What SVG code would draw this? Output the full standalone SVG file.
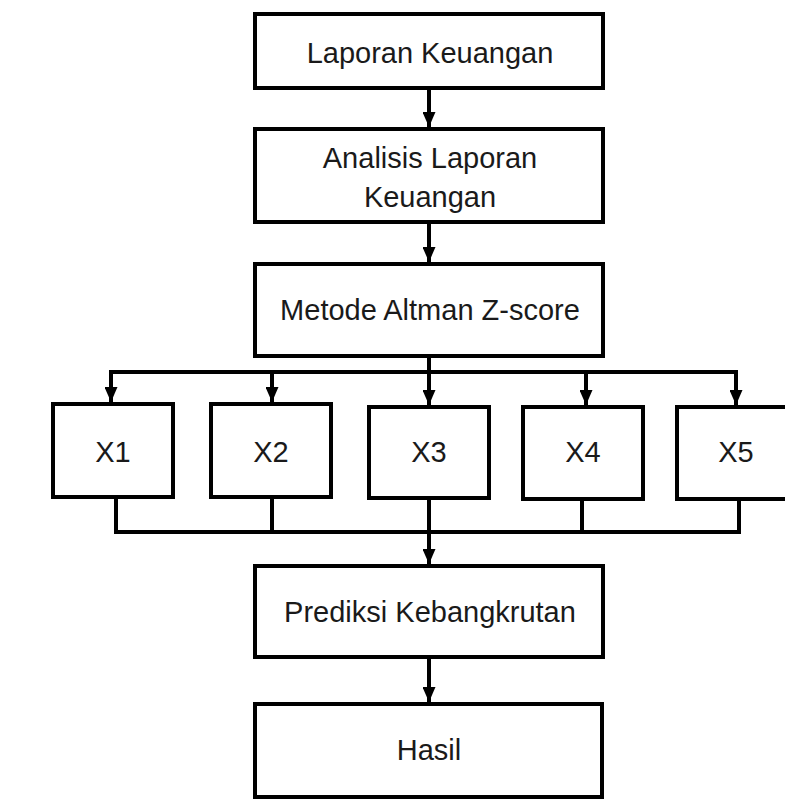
<svg xmlns="http://www.w3.org/2000/svg" width="785" height="803" viewBox="0 0 785 803">
<defs>
<style>
.box{fill:#fff;stroke:#000;stroke-width:4}
.t{font-family:"Liberation Sans",Arial,sans-serif;font-size:29px;fill:#1a1a1a;text-anchor:middle}
.c{fill:none;stroke:#000;stroke-width:4}
</style>
<marker id="a" markerWidth="15" markerHeight="13" refX="15" refY="6.5" viewBox="0 0 15 13" orient="auto" markerUnits="userSpaceOnUse">
<path d="M0,0 L15,6.5 L0,13 Z" fill="#000"/>
</marker>
</defs>
<rect width="785" height="803" fill="#fff"/>
<g id="n1"><rect class="box" x="255" y="14" width="348" height="74"/><text class="t" x="430" y="63">Laporan Keuangan</text></g>
<g id="n2"><rect class="box" x="255" y="129" width="348" height="93"/><text class="t" x="430" y="168">Analisis Laporan</text><text class="t" x="430" y="207">Keuangan</text></g>
<g id="n3"><rect class="box" x="255" y="264" width="348" height="92"/><text class="t" x="430" y="320">Metode Altman Z-score</text></g>
<g id="x1"><rect class="box" x="53" y="404" width="120" height="93"/><text class="t" x="113" y="462">X1</text></g>
<g id="x2"><rect class="box" x="211" y="404" width="120" height="93"/><text class="t" x="271" y="462">X2</text></g>
<g id="x3"><rect class="box" x="369" y="407" width="120" height="91"/><text class="t" x="429" y="462">X3</text></g>
<g id="x4"><rect class="box" x="523" y="407" width="120" height="92"/><text class="t" x="583" y="462">X4</text></g>
<g id="x5"><rect class="box" x="677" y="407" width="120" height="92"/><text class="t" x="736" y="462">X5</text></g>
<g id="n4"><rect class="box" x="255" y="566" width="348" height="91"/><text class="t" x="430" y="622">Prediksi Kebangkrutan</text></g>
<g id="n5"><rect class="box" x="255" y="704" width="347" height="93"/><text class="t" x="429" y="760">Hasil</text></g>
<g id="connectors">
<line class="c" x1="429" y1="88" x2="429" y2="127" marker-end="url(#a)"/>
<line class="c" x1="429" y1="222" x2="429" y2="262" marker-end="url(#a)"/>
<line class="c" x1="429" y1="356" x2="429" y2="405" marker-end="url(#a)"/>
<polyline class="c" points="111,392 111,372 736,372 736,392"/>
<line class="c" x1="111" y1="390" x2="111" y2="402" marker-end="url(#a)"/>
<line class="c" x1="736" y1="390" x2="736" y2="405" marker-end="url(#a)"/>
<line class="c" x1="272" y1="372" x2="272" y2="402" marker-end="url(#a)"/>
<line class="c" x1="586" y1="372" x2="586" y2="405" marker-end="url(#a)"/>
<polyline class="c" points="116,497 116,532 739,532 739,499"/>
<line class="c" x1="272" y1="497" x2="272" y2="532"/>
<line class="c" x1="582" y1="499" x2="582" y2="532"/>
<line class="c" x1="429" y1="498" x2="429" y2="564" marker-end="url(#a)"/>
<line class="c" x1="429" y1="657" x2="429" y2="702" marker-end="url(#a)"/>
</g>
</svg>
